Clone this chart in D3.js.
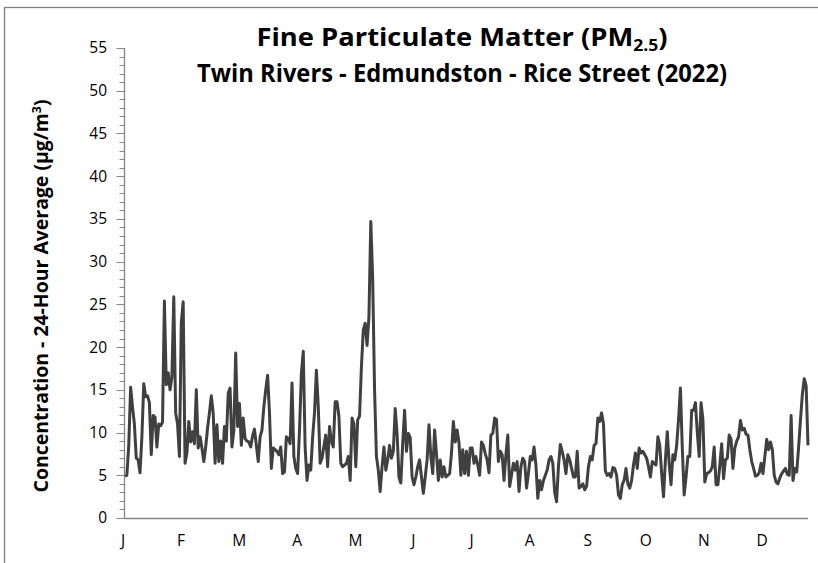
<!DOCTYPE html>
<html><head><meta charset="utf-8">
<script src="https://cdn.jsdelivr.net/npm/d3@7"></script>
<style>body{margin:0;background:#fff}svg{display:block}</style>
</head><body>
<svg id="chart" width="818" height="563"></svg>
<script>
const year = 2022;
const monthLabels = ["J","F","M","A","M","J","J","A","S","O","N","D"];
const yTickValues = [0,5,10,15,20,25,30,35,40,45,50,55];
const titleLine1 = ["Fine Particulate Matter (PM", "2.5", ")"];
const titleLine2 = "Twin Rivers - Edmundston - Rice Street (2022)";
const yAxisLabel = ["Concentration - 24-Hour Average (µg/m", "3", ")"];
// daily 24-hour average PM2.5 (µg/m3), Jan 1 .. Dec 31
const pm25 = [
4.9,5.0,8.5,15.3,13.0,11.0,7.0,6.8,5.3,9.5,
15.7,14.2,14.3,13.5,7.4,12.0,11.8,8.3,11.0,10.8,
11.2,25.4,15.6,17.0,15.0,16.5,25.9,12.3,11.0,7.2,
22.9,25.3,6.4,7.6,11.3,8.9,10.1,8.7,15.0,8.2,
9.5,8.2,6.6,8.3,10.5,12.3,14.3,12.3,6.4,10.9,
6.6,9.0,6.4,10.7,9.0,14.6,15.2,8.3,10.2,19.3,
10.7,13.4,8.5,11.7,9.3,9.0,8.9,8.3,9.6,10.4,
8.5,6.6,9.5,10.3,13.0,15.0,16.7,12.3,5.8,8.2,
8.0,7.8,7.4,8.3,5.2,5.4,9.5,9.3,8.7,15.8,
7.2,5.8,5.2,10.3,16.9,19.5,8.3,4.4,6.2,5.6,
9.5,12.3,17.3,13.0,6.4,7.0,8.4,9.7,6.0,10.7,
9.0,8.3,13.6,13.6,11.9,6.4,6.0,6.2,6.4,7.2,
4.4,11.7,11.0,6.0,11.5,11.9,17.7,22.0,22.8,20.2,
23.5,34.7,28.0,15.0,7.2,5.6,3.1,6.0,8.3,5.6,
6.8,8.5,7.0,7.8,12.8,9.9,4.8,4.1,8.7,12.6,
7.8,9.9,9.4,4.8,3.9,4.8,6.0,6.8,4.8,2.9,
4.8,6.8,10.9,7.2,5.2,10.3,7.5,4.4,6.8,4.8,
6.0,4.8,5.0,5.2,7.6,11.3,8.9,10.3,8.8,5.0,
8.0,5.2,7.8,5.0,8.2,8.2,6.4,7.2,6.2,5.0,
8.9,8.5,7.5,6.8,5.3,9.7,9.9,11.7,11.5,6.6,
7.8,7.4,4.4,7.4,9.7,3.7,5.0,6.4,5.6,6.6,
3.1,6.0,7.0,6.6,3.5,5.2,7.2,6.8,8.3,6.2,
2.3,4.4,3.3,4.4,5.0,5.6,6.8,7.2,6.4,3.0,
1.9,6.0,8.6,7.8,6.8,5.2,7.4,6.8,5.8,4.8,
4.8,7.8,3.5,3.7,4.0,3.3,3.7,6.0,7.2,6.8,
8.5,8.7,11.7,11.3,12.3,11.0,5.5,5.0,5.2,4.8,
5.9,5.8,5.0,2.7,2.3,3.9,4.4,5.8,4.0,3.5,
4.4,6.2,7.6,5.8,8.2,7.6,7.8,7.4,7.0,6.0,
4.8,6.6,6.4,6.2,9.5,8.5,5.2,2.5,6.8,10.1,
6.4,3.9,7.4,6.8,8.5,11.5,15.2,8.2,2.7,4.8,
7.2,7.2,12.6,12.6,13.5,10.0,7.2,13.5,11.5,4.2,
5.2,5.3,5.5,6.0,8.3,3.9,3.9,6.2,8.7,4.6,
6.8,7.0,9.7,9.2,5.8,8.2,9.0,9.5,11.4,10.3,
10.5,9.8,9.7,8.0,6.6,5.8,4.9,5.0,5.3,6.4,
5.2,7.2,9.2,8.0,8.9,8.0,5.0,4.2,4.0,4.7,
5.2,5.5,5.8,5.1,5.0,12.0,4.4,5.8,5.4,8.3,
11.5,14.5,16.3,15.5,8.5
];

const svg = d3.select("#chart");
const W = 818, H = 563;
const plot = {left: 124.5, right: 808, top: 48, bottom: 518};
const font = "'Open Sans', 'Noto Sans', sans-serif";

// outer chart border
svg.append("rect").attr("x", 4.5).attr("y", 7.5).attr("width", W + 10).attr("height", H + 10)
  .attr("fill", "#fff").attr("stroke", "#7f7f7f").attr("stroke-width", 1.3);

const start = new Date(year, 0, 1);
const data = pm25.map((v, i) => ({date: d3.timeDay.offset(start, i), value: v}));

const x = d3.scaleTime()
  .domain([start, new Date(year, 11, 31)])
  .range([plot.left + 0.5, plot.right]);
const y = d3.scaleLinear().domain([0, 55]).range([plot.bottom, plot.top]);
const xMonth = d3.scalePoint().domain(d3.range(12)).range([123, 762]);

// y axis: minor ticks
const minor = d3.range(0, 56, 1).filter(v => v % 5 !== 0);
const gy = svg.append("g");
gy.selectAll("line.minor").data(minor).join("line")
  .attr("x1", plot.left - 5).attr("x2", plot.left)
  .attr("y1", d => Math.round(y(d)) + 0.5).attr("y2", d => Math.round(y(d)) + 0.5)
  .attr("stroke", "#868686").attr("stroke-width", 1);
gy.selectAll("line.major").data(yTickValues).join("line")
  .attr("x1", plot.left - 8).attr("x2", plot.left)
  .attr("y1", d => Math.round(y(d)) + 0.5).attr("y2", d => Math.round(y(d)) + 0.5)
  .attr("stroke", "#868686").attr("stroke-width", 1);
gy.selectAll("text").data(yTickValues).join("text")
  .attr("x", 107).attr("y", d => y(d)).attr("dy", "0.35em")
  .attr("text-anchor", "end").attr("font-family", font).attr("font-size", 15.5)
  .attr("fill", "#000").text(d => d);
// axis lines
svg.append("line").attr("x1", plot.left).attr("x2", plot.left)
  .attr("y1", plot.top).attr("y2", plot.bottom + 0.5).attr("stroke", "#868686").attr("stroke-width", 1.3);
svg.append("line").attr("x1", plot.left).attr("x2", plot.right)
  .attr("y1", plot.bottom + 0.5).attr("y2", plot.bottom + 0.5).attr("stroke", "#868686").attr("stroke-width", 1.3);

// month labels
svg.append("g").selectAll("text").data(monthLabels).join("text")
  .attr("x", (d, i) => xMonth(i)).attr("y", 541).attr("dy", "0.35em")
  .attr("text-anchor", "middle").attr("font-family", font).attr("font-size", 15.5)
  .attr("fill", "#000").text(d => d);

// data line
const line = d3.line().x(d => x(d.date)).y(d => y(d.value));
svg.append("path").datum(data).attr("d", line)
  .attr("fill", "none").attr("stroke", "#404040").attr("stroke-width", 3)
  .attr("stroke-linejoin", "round");

// titles
const t1 = svg.append("text").attr("x", 462).attr("y", 46).attr("text-anchor", "middle")
  .attr("font-family", font).attr("font-weight", "bold").attr("font-size", 25).attr("fill", "#000");
t1.append("tspan").text(titleLine1[0]);
t1.append("tspan").attr("dy", 5).attr("font-size", 16).text(titleLine1[1]);
t1.append("tspan").attr("dy", -5).text(titleLine1[2]);
t1.attr("textLength", 411).attr("lengthAdjust", "spacingAndGlyphs");

svg.append("text").attr("x", 462).attr("y", 82).attr("text-anchor", "middle")
  .attr("font-family", font).attr("font-weight", "bold").attr("font-size", 25).attr("fill", "#000")
  .attr("textLength", 530).attr("lengthAdjust", "spacingAndGlyphs")
  .text(titleLine2);

// y axis label
const yl = svg.append("text").attr("transform", "translate(48,296) rotate(-90)")
  .attr("text-anchor", "middle").attr("font-family", font).attr("font-weight", "bold")
  .attr("font-size", 19).attr("fill", "#000");
yl.append("tspan").text(yAxisLabel[0]);
yl.append("tspan").attr("dy", -7).attr("font-size", 12).text(yAxisLabel[1]);
yl.append("tspan").attr("dy", 7).text(yAxisLabel[2]);
yl.attr("textLength", 393).attr("lengthAdjust", "spacingAndGlyphs");
</script>
</body></html>
